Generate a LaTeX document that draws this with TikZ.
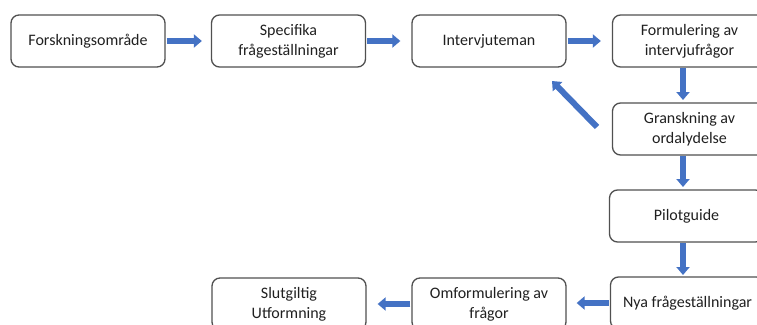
\documentclass[tikz,border=0pt]{standalone}
\usepackage{fontspec}
\setmainfont{Carlito}
\usetikzlibrary{arrows.meta,calc}
\definecolor{arrowblue}{HTML}{4472C4}
\definecolor{boxline}{HTML}{505050}
\definecolor{txt}{HTML}{202020}
\tikzset{
  box/.style={draw=boxline, line width=1.3pt, rounded corners=8pt, fill=white,
    minimum width=154pt, minimum height=52pt, inner sep=0pt, align=center,
    text=txt, font=\fontsize{16pt}{20pt}\selectfont},
  flow/.style={draw=arrowblue, line width=6pt,
    -{Triangle[width=13pt,length=8pt]}, shorten >=2pt}
}
\begin{document}
\begin{tikzpicture}[x=1pt,y=-1pt]
\useasboundingbox (0,0) rectangle (757,324);
\clip (0,0) rectangle (757,324);
\node[box] (forsk) at (88,41) {Forskningsområde};
\node[box] (spec) at (288.5,41) {Specifika\\frågeställningar};
\node[box] (inter) at (489,41) {Intervjuteman};
\node[box] (form) at (689.5,41) {Formulering av\\intervjufrågor};
\node[box] (gran) at (689.5,129) {Granskning av\\ordalydelse};
\node[box] (pilot) at (686.5,216) {Pilotguide};
\node[box] (nya) at (687.5,303) {Nya frågeställningar};
\node[box] (omf) at (489,304) {Omformulering av\\frågor};
\node[box] (slut) at (289,304) {Slutgiltig\\Utformning};
\coordinate (dtail) at (597,127);
\coordinate (dtip) at (552,81);
\draw[flow, shorten <=1pt, shorten >=9pt] (forsk.east) -- (spec.west);
\draw[flow, shorten <=1pt, shorten >=11pt] (spec.east) -- (inter.west);
\draw[flow, shorten <=1pt, shorten >=11pt] (inter.east) -- (form.west);
\draw[flow, shorten <=1pt, shorten >=3pt] (683,67) -- (683,103);
\draw[flow, shorten <=1pt, shorten >=3pt] (683,155) -- (683,190);
\draw[flow, shorten <=1pt, shorten >=2pt] (683,242) -- (683,277);
\draw[flow, shorten <=1pt, shorten >=10pt] (nya.west |- 0,303) -- (omf.east |- 0,303);
\draw[flow, shorten <=1pt, shorten >=11pt] (omf.east -| omf.west) -- (slut.east);
\draw[flow, shorten >=0pt] (dtail) -- (dtip);
\end{tikzpicture}
\end{document}
